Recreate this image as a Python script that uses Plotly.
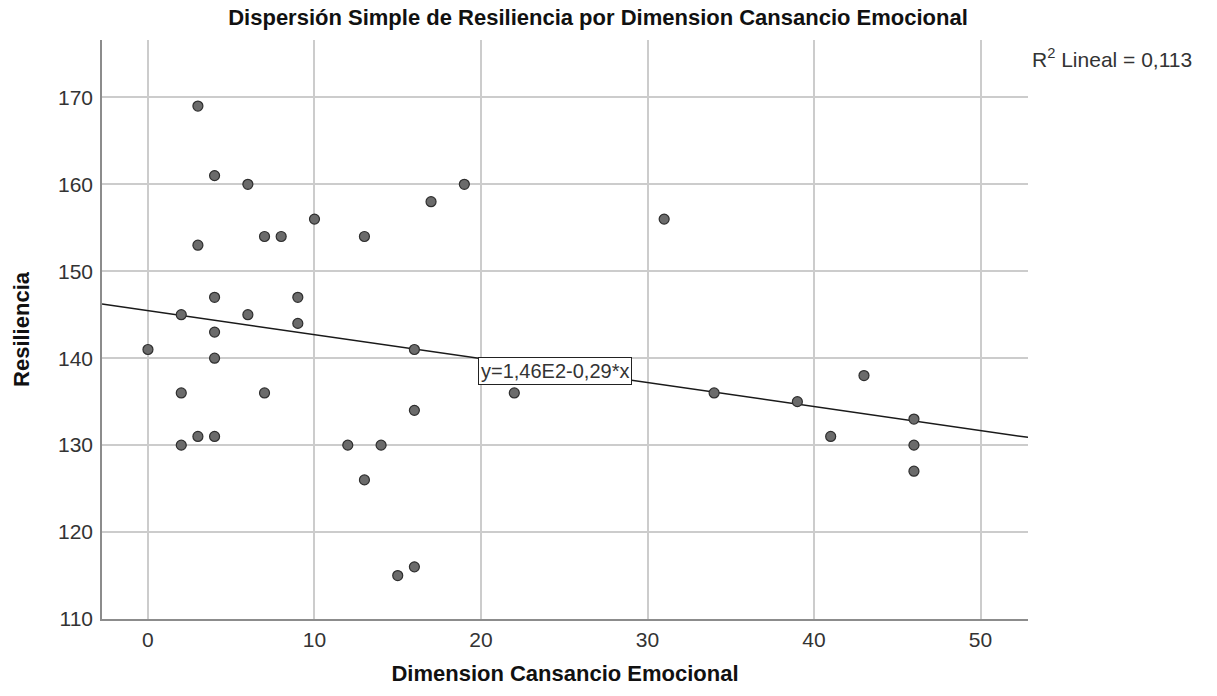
import numpy as np
import plotly.graph_objects as go

# Data
cansancio = [0, 2, 2, 2, 3, 3, 3, 4, 4, 4, 4, 4, 6, 6, 7, 7, 8, 9, 9, 10,
             12, 13, 13, 14, 15, 16, 16, 16, 17, 19, 22, 31, 34, 39, 41, 43, 46, 46, 46]
resiliencia = [141, 145, 136, 130, 169, 153, 131, 161, 147, 143, 140, 131, 160, 145, 154, 136, 154, 147, 144, 156,
               130, 154, 126, 130, 115, 141, 134, 116, 158, 160, 136, 156, 136, 135, 131, 138, 133, 130, 127]

x_ticks = [0, 10, 20, 30, 40, 50]
y_ticks = [110, 120, 130, 140, 150, 160, 170]
x_range = [-2.76, 52.85]
y_range = [110, 176.6]

slope, intercept = np.polyfit(cansancio, resiliencia, 1)

eq_text = "y=1,46E2-0,29*x"
r2_text = "R<sup>2</sup> Lineal = 0,113"

FONT = "Liberation Sans, Arial, sans-serif"

fig = go.Figure()
lx = np.array(x_range)
fig.add_trace(go.Scatter(x=lx, y=intercept + slope * lx, mode="lines",
                         line=dict(color="#1a1a1a", width=1.5), showlegend=False, hoverinfo="skip"))
fig.add_trace(go.Scatter(x=cansancio, y=resiliencia, mode="markers",
                         marker=dict(size=10, color="#6b6b6b", line=dict(color="#2e2e2e", width=1.2)),
                         showlegend=False))

fig.add_annotation(x=19.8, y=140.1, xref="x", yref="y", text=eq_text, showarrow=False,
                   xanchor="left", yanchor="top", bgcolor="white", bordercolor="#222", borderwidth=1,
                   borderpad=2, font=dict(family=FONT, size=20, color="#333"))
fig.add_annotation(x=1.002, y=0.969, xref="paper", yref="paper", text=r2_text, showarrow=False,
                   xanchor="left", yanchor="middle", font=dict(family=FONT, size=21, color="#333"))

fig.update_layout(
    width=1217, height=696,
    margin=dict(l=102, r=189, t=40, b=77),
    paper_bgcolor="white", plot_bgcolor="white",
    title=dict(text="<b>Dispersión Simple de Resiliencia por Dimension Cansancio Emocional</b>",
               x=0.4914, xref="container", xanchor="center", y=1 - 17 / 696, yref="container", yanchor="middle",
               font=dict(family=FONT, size=22, color="#111")),
    font=dict(family=FONT),
)
fig.update_xaxes(range=x_range, tickvals=x_ticks, showgrid=True, gridcolor="#cccccc", gridwidth=1.5,
                 showline=True, linecolor="#8c8c8c", linewidth=1.5, zeroline=False,
                 ticks="outside", ticklen=1, tickcolor="rgba(0,0,0,0)",
                 tickfont=dict(family=FONT, size=21, color="#333"),
                 title=dict(text="<b>Dimension Cansancio Emocional</b>", standoff=16,
                            font=dict(family=FONT, size=22, color="#111")))
fig.update_yaxes(range=y_range, tickvals=y_ticks, showgrid=True, gridcolor="#cccccc", gridwidth=1.5,
                 showline=True, linecolor="#8c8c8c", linewidth=1.5, zeroline=False,
                 ticks="outside", ticklen=3, tickcolor="rgba(0,0,0,0)",
                 tickfont=dict(family=FONT, size=21, color="#333"),
                 title=dict(text="<b>Resiliencia</b>", standoff=22,
                            font=dict(family=FONT, size=22, color="#111")))

fig.write_html("out.html")
